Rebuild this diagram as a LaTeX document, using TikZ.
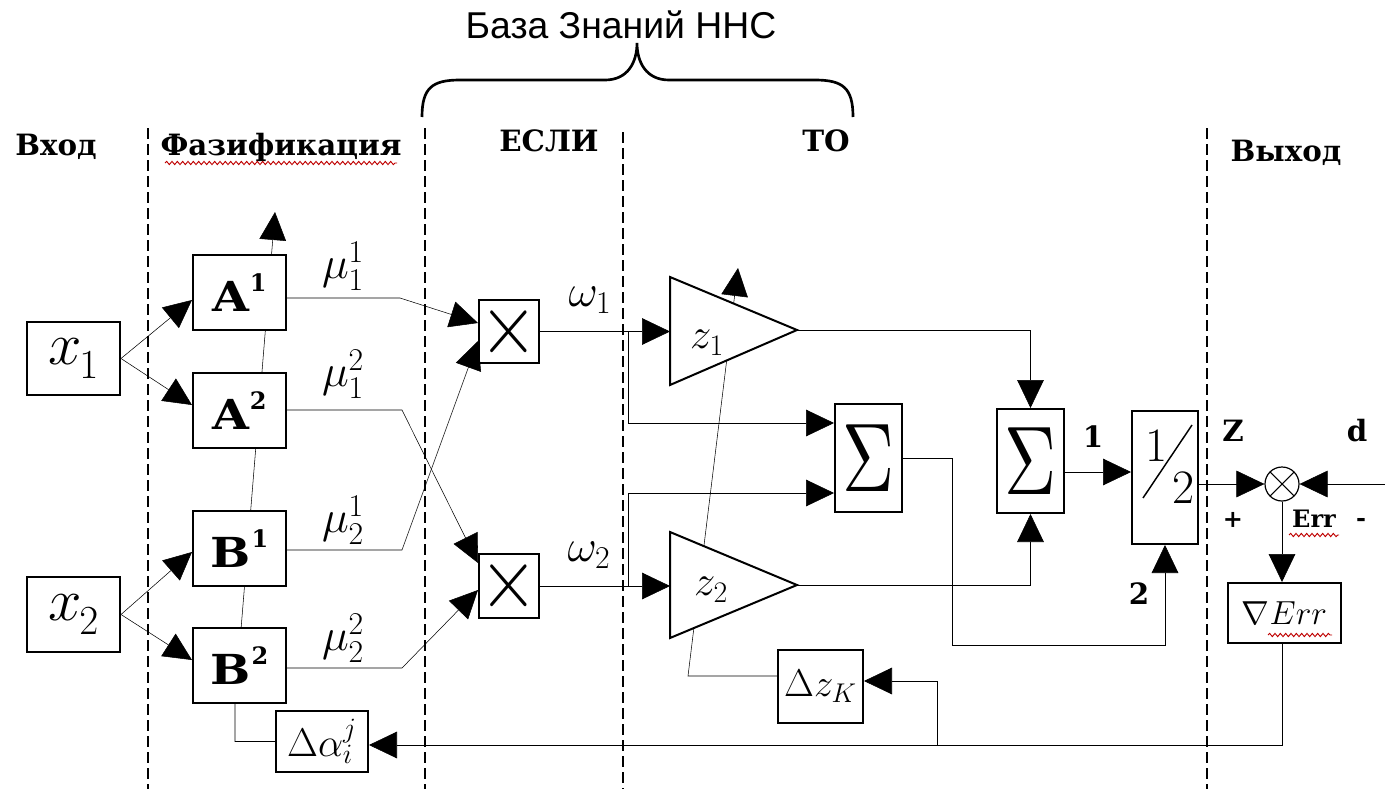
\RequirePackage{fix-cm}
\documentclass[tikz,border=0pt]{standalone}
\usepackage{fontspec}
\setmainfont{DejaVu Serif}
\newfontfamily\sansf{Liberation Sans}
\usepackage{graphicx}
\usetikzlibrary{arrows.meta,calc,decorations.pathmorphing}
\pgfdeclarelayer{bg}
\pgfsetlayers{bg,main}
\newcommand\xsym[1]{{\fontsize{45}{45}\selectfont$x$}\kern-2pt\raisebox{-11pt}{\fontsize{31}{31}\selectfont$#1$}}
\newcommand\fuz[2]{{\fontsize{31}{31}\selectfont\bfseries\scalebox{1.15}[1]{#1}\kern0.5pt\raisebox{15pt}{\fontsize{18}{18}\selectfont #2}}}
\newcommand\sig{\resizebox{39pt}{50pt}{$\Sigma$}}
\newcommand\mulsym{\resizebox{44pt}{38pt}{$\times$}}
\begin{document}
\begin{tikzpicture}[x=0.75pt,y=-0.75pt,line width=1.5pt,
  box/.style={draw,fill=white,inner sep=0pt,line width=1.5pt},
  wh/.style 2 args={minimum width={#1*0.75pt},minimum height={#2*0.75pt}},
  arr/.style={-{Triangle[length=21pt,width=20pt]}},
  sep/.style={dash pattern=on 8pt off 4pt,line width=1.8pt},
  hdr/.style={font=\fontsize{22}{22}\selectfont\bfseries,anchor=base,inner sep=0pt},
  lbl/.style={font=\fontsize{22}{22}\selectfont\bfseries,inner sep=0pt},
  slbl/.style={font=\fontsize{18}{18}\selectfont\bfseries,inner sep=0pt},
  mth/.style={font=\fontsize{34}{34}\selectfont,inner sep=0pt},
  wavy/.style={draw=red!75!black,line width=0.7pt,decorate,decoration={snake,amplitude=1.2pt,segment length=4pt}}
]
\useasboundingbox (0,0) rectangle (1385,789);

% headers
\node[hdr] (hIn) at (56,155) {Вход};
\node[hdr] (hFuz) at (281,155) {Фазификация};
\node[hdr] (hIf) at (549,151) {ЕСЛИ};
\node[hdr] (hThen) at (826,151) {ТО};
\node[hdr] (hOut) at (1286,161) {Выход};
\node[font=\sansf\fontsize{28}{28}\selectfont,anchor=base,inner sep=0pt] (kb) at (621,38) {База Знаний ННС};
\draw[wavy] (165,163) -- (397,163);

% brace
\draw[line width=2pt] (422,117) .. controls (422,88) and (432,80) .. (460,80) -- (605,80)
  .. controls (628,80) and (637,62) .. (637,43) .. controls (637,62) and (646,80) .. (669,80)
  -- (815,80) .. controls (843,80) and (853,88) .. (853,117);

% boxes
\node[box,wh={93}{73}] (x1) at (73.5,358.5) {\xsym{1}};
\node[box,wh={93}{75}] (x2) at (73.5,614.5) {\xsym{2}};
\node[box,wh={93}{75}] (A1) at (239.5,292.5) {\fuz{A}{1}};
\node[box,wh={93}{75}] (A2) at (239.5,410.5) {\fuz{A}{2}};
\node[box,wh={93}{75}] (B1) at (239.5,548.5) {\fuz{B}{1}};
\node[box,wh={93}{75}] (B2) at (239.5,665.5) {\fuz{B}{2}};
\node[box,wh={92}{61}] (da) at (322,741.5) {\fontsize{30}{30}\selectfont$\Delta\alpha_i^j$};
\node[box,wh={60}{63}] (mul1) at (509,331.5) {\mulsym};
\node[box,wh={60}{64}] (mul2) at (509,586) {\mulsym};
\node[box,wh={67}{108}] (sum1) at (868.5,458) {\sig};
\node[box,wh={67}{104}] (sum2) at (1030.5,461) {\sig};
\node[box,wh={66}{133}] (half) at (1165,477.5) {};
\node[inner sep=0pt] (hn1) at ($(half.center)+(-9,-31.5)$) {\fontsize{36}{36}\selectfont$1$};
\node[inner sep=0pt] (hn2) at ($(half.center)+(18,10.5)$) {\fontsize{36}{36}\selectfont$2$};
\draw[line width=1.1pt] ($(half.center)+(27,-52.5)$) -- ($(half.center)+(-22,20.5)$);
\node[box,wh={113}{60}] (grad) at (1284.5,613) {\fontsize{25}{25}\selectfont$\nabla Err$};
\node[box,wh={85}{73}] (dz) at (820.5,686.5) {\fontsize{29}{29}\selectfont$\Delta z_K$};
\node[draw,circle,fill=white,inner sep=0pt,minimum size=25.5pt,line width=0.9pt,
  path picture={\draw[line width=0.8pt] (path picture bounding box.north west) -- (path picture bounding box.south east)
  (path picture bounding box.south west) -- (path picture bounding box.north east);}] (err) at (1282,484) {};

% triangles
\coordinate (z1a) at (670,277); \coordinate (z1b) at (670,385); \coordinate (z1c) at (797,330);
\coordinate (z2a) at (670,532); \coordinate (z2b) at (670,638); \coordinate (z2c) at (797,585);
\draw[fill=white] (z1a) -- (z1c) -- (z1b) -- cycle;
\draw[fill=white] (z2a) -- (z2c) -- (z2b) -- cycle;
\node[inner sep=0pt] (z1l) at (707,343) {\fontsize{32}{32}\selectfont$z_1$};
\node[inner sep=0pt] (z2l) at (711,590) {\fontsize{32}{32}\selectfont$z_2$};
\coordinate (z1in) at (670,331.5);
\coordinate (z2in) at (670,586);
\coordinate (dsrc) at (1385,484);
\coordinate (aTip) at (275,212);
\coordinate (zTip) at (738,268);

% background: separators and tuning lines
\begin{pgfonlayer}{bg}
\draw[sep] (148,128) -- (148,789);
\draw[sep] (425,128) -- (425,789);
\draw[sep] (623,132) -- (623,789);
\draw[sep] (1207,128) -- (1207,789);
\draw[arr] (da.west) -- (235,741.5) -- (235,703) -- (aTip);
\draw[arr] (dz.west |- 0,676) -- (688,676) -- (zTip);
\end{pgfonlayer}

% labels
\node[mth] (mu11) at (343,266) {$\mu_1^1$};
\node[mth] (mu12) at (343,374) {$\mu_1^2$};
\node[mth] (mu21) at (343,520) {$\mu_2^1$};
\node[mth] (mu22) at (343,638) {$\mu_2^2$};
\node[mth] (w1) at (590,300) {$\omega_1$};
\node[mth] (w2) at (589,555) {$\omega_2$};
\node[lbl] (l1) at (1093,437) {1};
\node[lbl] (l2) at (1139,594) {2};
\node[lbl] (lZ) at (1233,431) {Z};
\node[lbl] (ld) at (1357,431) {d};
\node[slbl] (lp) at (1233,520) {+};
\node[slbl] (lerr) at (1314,519) {Err};
\node[slbl] (lm) at (1361,522) {-};
\draw[wavy] (1289,535) -- (1339,535);
\draw[wavy] (1268,635) -- (1332,635);

% connectors
\draw[arr] (x1.east) -- (A1.west |- 0,300);
\draw[arr] (x1.east) -- (A2.west |- 0,405);
\draw[arr] (x2.east) -- (B1.west |- 0,552);
\draw[arr] (x2.east) -- (B2.west |- 0,660);
\draw[arr] (A1.east |- 0,298) -- (400,298) -- (mul1.west |- 0,323);
\draw[arr] (A2.east |- 0,410) -- (402,410) -- (mul2.west |- 0,563);
\draw[arr] (B1.east |- 0,550) -- (402,550) -- (mul1.west |- 0,341);
\draw[arr] (B2.east |- 0,668) -- (402,668) -- (mul2.west |- 0,590);
\draw[arr] (mul1.east) -- (z1in);
\draw[arr] (mul1.east -| 628,0) -- (628,423) -- (sum1.west |- 0,423);
\draw[arr] (mul2.east) -- (z2in);
\draw[arr] (mul2.east -| 628,0) -- (628,493) -- (sum1.west |- 0,493);
\draw[arr] (z1c) -- (z1c -| sum2.north) -- (sum2.north);
\draw[arr] (z2c) -- (z2c -| sum2.south) -- (sum2.south);
\draw[arr] (sum1.east) -- (sum1.east -| 952,0) -- (952,645) -- (half.south |- 0,645) -- (half.south);
\draw[arr] (sum2.east |- 0,472) -- (half.west |- 0,472);
\draw[arr] (half.east |- err) -- (err.west);
\draw[arr] (dsrc) -- (err.east);
\draw[arr] (err.south) -- (err.south |- grad.north);
\draw[arr] (grad.south -| err) -- (err |- 0,745) -- (da.east |- 0,745);
\draw[arr] (937,745) -- (937,681) -- (dz.east |- 0,681);
\end{tikzpicture}
\end{document}
